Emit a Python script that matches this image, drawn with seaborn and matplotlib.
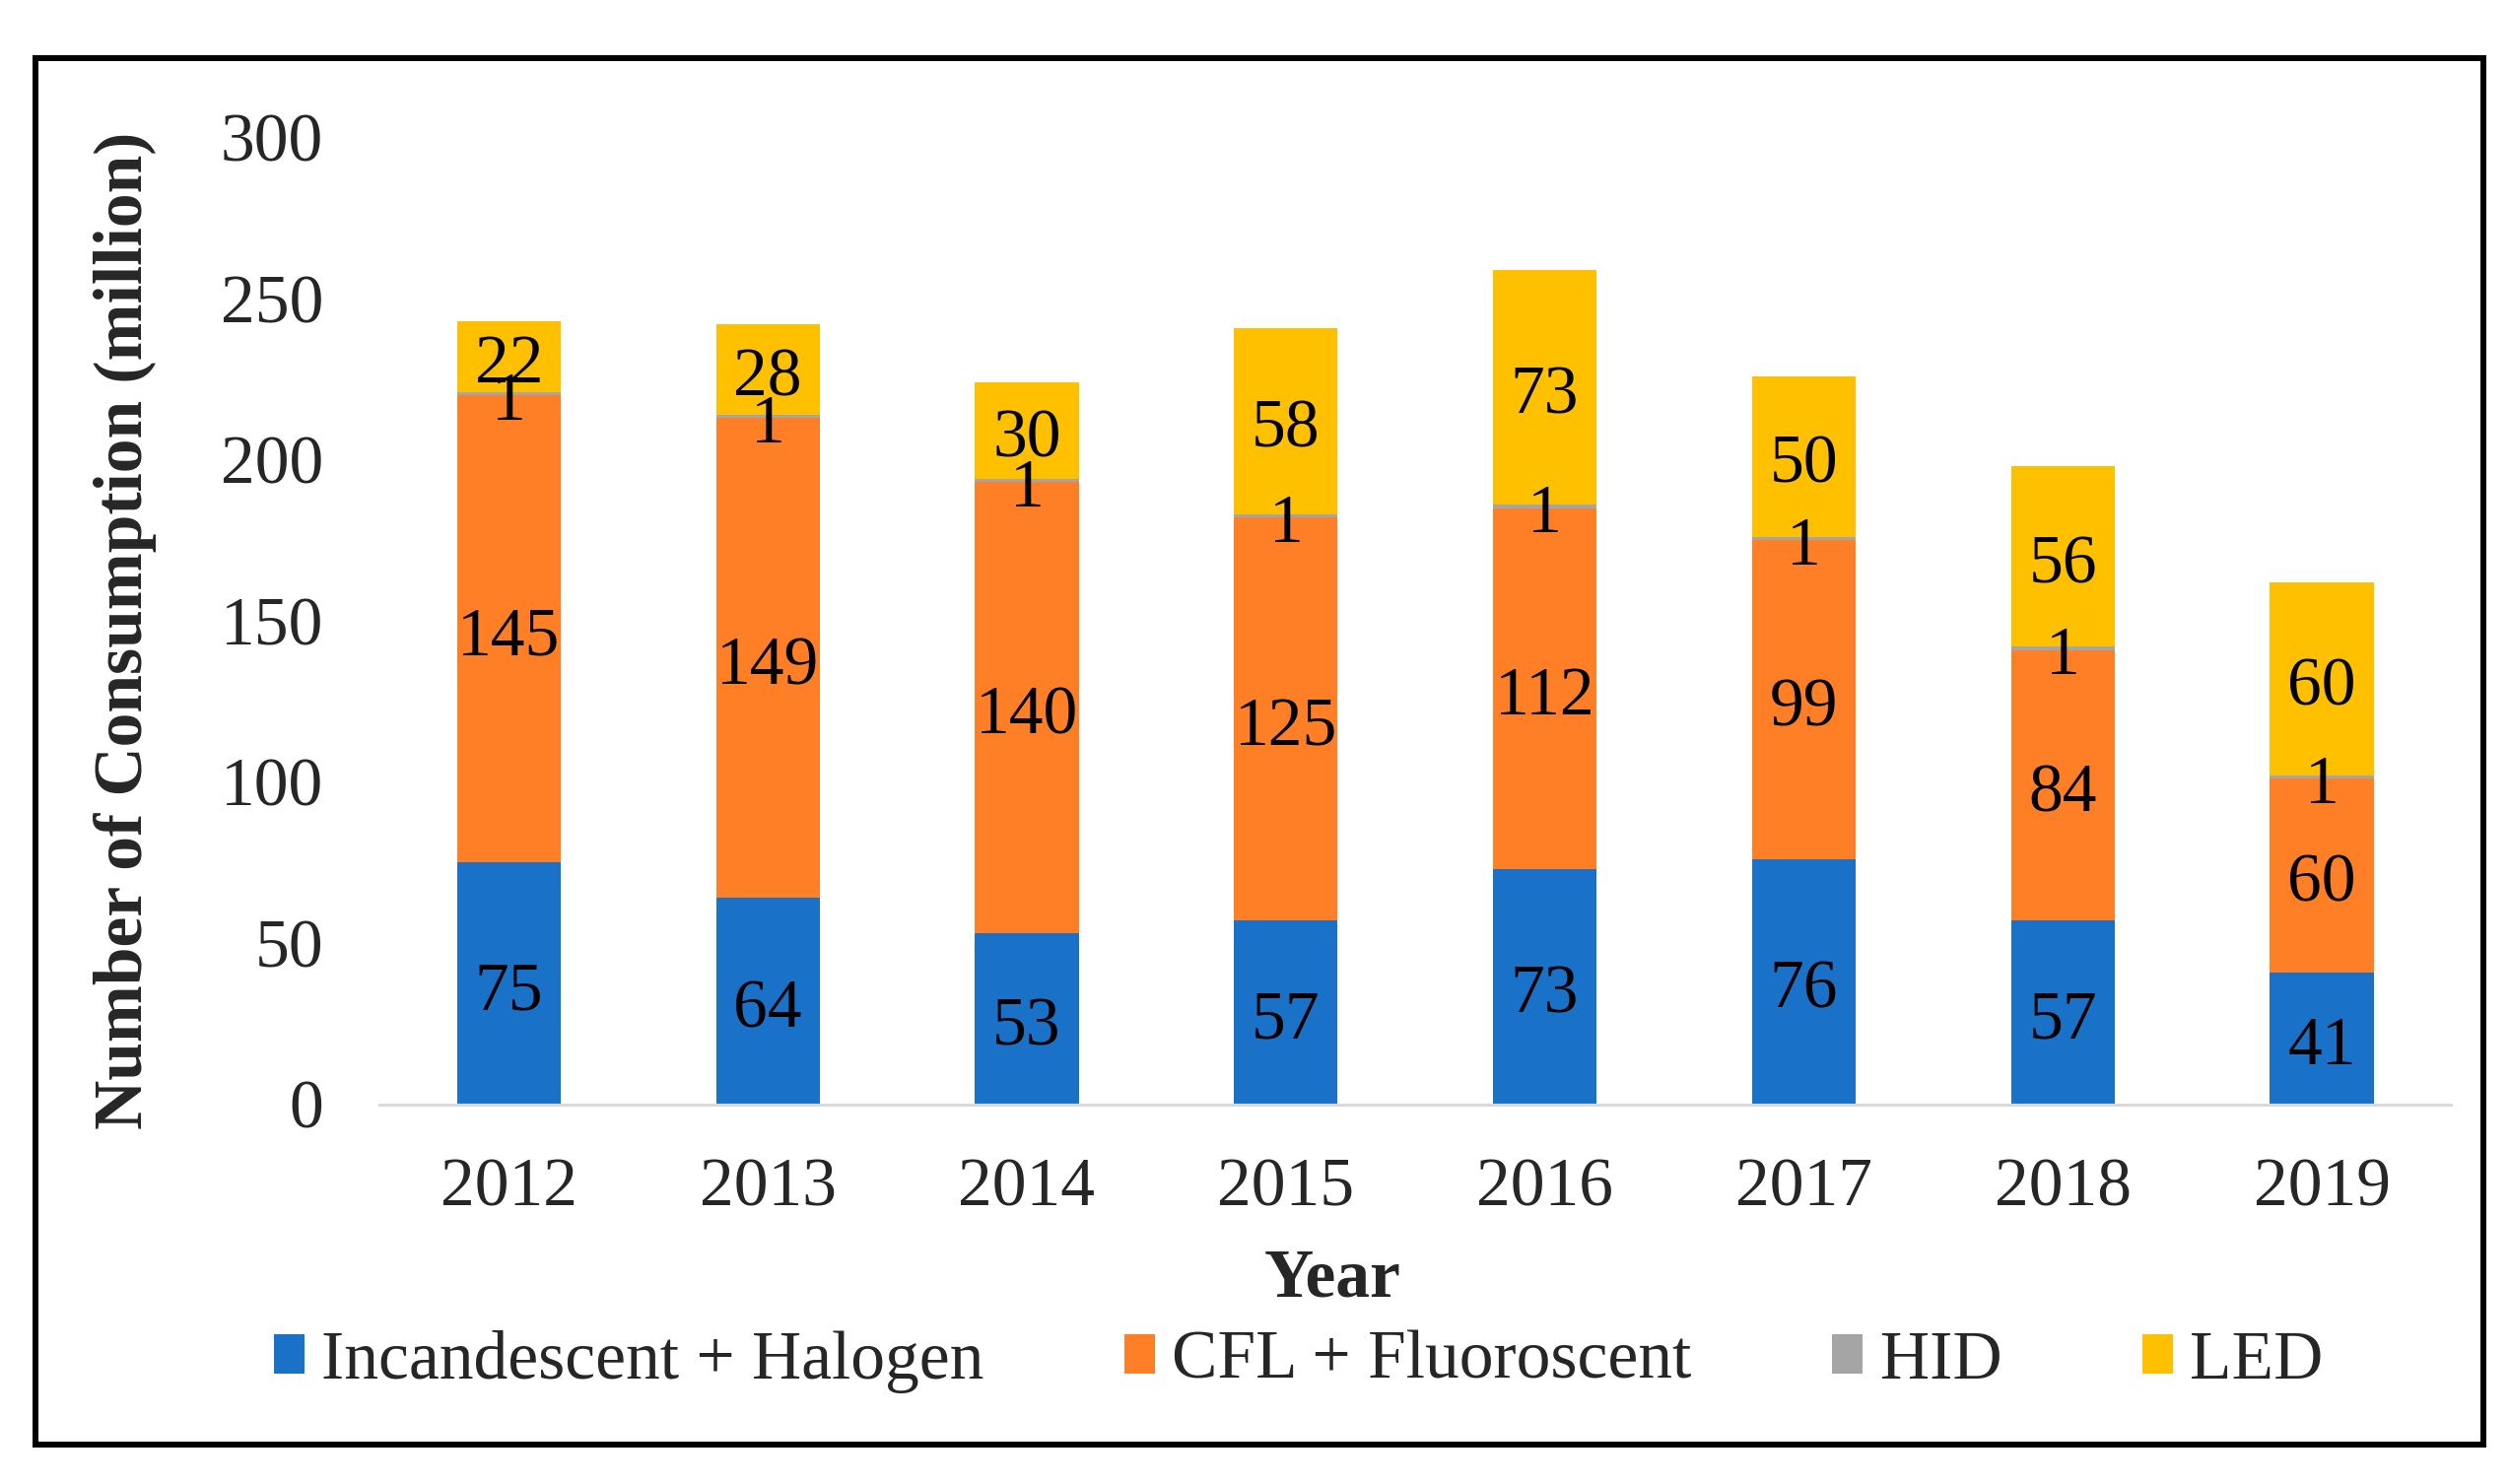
import matplotlib
matplotlib.use("Agg")
import matplotlib.pyplot as plt
from matplotlib.patches import Patch, Rectangle
import numpy as np
import pandas as pd
import seaborn as sns

years = ["2012", "2013", "2014", "2015", "2016", "2017", "2018", "2019"]
incandescent = [75, 64, 53, 57, 73, 76, 57, 41]
cfl = [145, 149, 140, 125, 112, 99, 84, 60]
hid = [1, 1, 1, 1, 1, 1, 1, 1]
led = [22, 28, 30, 58, 73, 50, 56, 60]
series_names = ["Incandescent + Halogen", "CFL + Fluoroscent", "HID", "LED"]
colors = ["#1A72C8", "#FF7F27", "#A5A5A5", "#FFC000"]

sns.set_style("white")
plt.rcParams["font.family"] = ["Liberation Serif", "DejaVu Serif"]

FS = 50

series = [incandescent, cfl, hid, led]
cum = np.cumsum(np.array(series, dtype=float), axis=0)

fig = plt.figure(figsize=(25.46, 15.06), dpi=100)
ax = fig.add_axes([0.1512, 0.2559, 0.977 - 0.1512, 0.9073 - 0.2559])

# draw cumulative layers from top down so lower layers overlay
for i in range(len(series) - 1, -1, -1):
    df = pd.DataFrame({"Year": years, "value": cum[i]})
    sns.barplot(data=df, x="Year", y="value", color=colors[i], width=0.4,
                saturation=1, ax=ax, linewidth=0, errorbar=None)

# data labels centred in each segment
for i, vals in enumerate(series):
    for j, v in enumerate(vals):
        ymid = cum[i][j] - v / 2.0
        ax.annotate(str(v), xy=(j, ymid), xytext=(0, -7),
                    textcoords="offset points", ha="center", va="center",
                    fontsize=FS, color="black")

ax.set_ylim(0, 300)
ax.set_xlim(-0.5, len(years) - 0.5)
ax.set_yticks([0, 50, 100, 150, 200, 250, 300])
ax.set_xlabel("")
ax.set_ylabel("")
for s in ["left", "right", "top"]:
    ax.spines[s].set_visible(False)
ax.spines["bottom"].set_color("#D9D9D9")
ax.spines["bottom"].set_linewidth(2.2)
ax.tick_params(axis="y", length=0, pad=41, labelsize=FS)
ax.tick_params(axis="x", length=0, pad=39, labelsize=FS)
ax.grid(False)

fig.text(0.0498, 0.575, "Number of Consumption (million)", rotation=90,
         ha="center", va="center", fontsize=FS, fontweight="bold")
fig.text(0.531, 0.138, "Year", ha="center", va="center", fontsize=FS,
         fontweight="bold")

handles = [Patch(facecolor=c, edgecolor="none", label=n)
           for c, n in zip(colors, series_names)]
fig.legend(handles=handles, loc="center", bbox_to_anchor=(0.5175, 0.0825),
           ncol=4, frameon=False, fontsize=FS, handlelength=0.45,
           handleheight=0.5, handletextpad=0.25, columnspacing=2.05,
           borderaxespad=0, borderpad=0)

fig.patches.append(Rectangle((0.014, 0.0266), 0.9898 - 0.014, 0.961 - 0.0266,
                             transform=fig.transFigure, fill=False,
                             edgecolor="black", linewidth=4.3))

fig.savefig("out.png", dpi=100)
